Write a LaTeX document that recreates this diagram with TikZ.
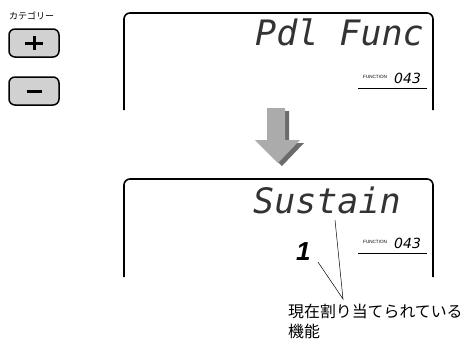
\documentclass[tikz,border=0pt]{standalone}
\usepackage{fontspec}
\newfontfamily\jpfont{Noto Sans CJK JP}
\newfontfamily\lcdfont{DejaVu Sans Mono}
\newfontfamily\segfont{DejaVu Sans}
\newfontfamily\labfont{Liberation Sans}
\begin{document}
\begin{tikzpicture}[x=1pt,y=-1pt,
  btn/.style={draw=black, line width=1.5pt, fill=black!18, rounded corners=6pt, minimum width=50pt, minimum height=28pt, inner sep=0pt},
  sign/.style={line width=3pt},
  lcdframe/.style={line width=1.6pt, rounded corners=6pt},
  lcdtext/.style={font=\lcdfont\itshape\fontsize{35}{35}\selectfont, text=black!80, inner sep=0pt, anchor=base west},
  funclab/.style={font=\labfont\fontsize{4.6}{4.6}\selectfont, inner sep=0pt, anchor=base west},
  funcnum/.style={font=\segfont\itshape\fontsize{14}{14}\selectfont, inner sep=0pt, anchor=base west},
  digit/.style={font=\labfont\bfseries\itshape\fontsize{26}{26}\selectfont, inner sep=0pt, anchor=base west},
  uline/.style={line width=0.8pt},
  leader/.style={line width=0.5pt},
  jp/.style={font=\jpfont\fontsize{15.9}{15.9}\selectfont, inner sep=0pt, anchor=base west},
  catlab/.style={font=\jpfont\fontsize{9}{9}\selectfont, inner sep=0pt, anchor=base west},
  arrowfill/.style={fill=black!33},
  arrowshadow/.style={fill=black!58}]
\useasboundingbox (0,0) rectangle (464,338);

% category buttons
\node[catlab] (cat) at (9,19) {カテゴリー};
\node[btn] (plus) at (34,43) {};
\draw[sign] (25,43) -- (43,43) (34,36) -- (34,50);
\node[btn] (minus) at (34,91) {};
\draw[sign] (26.5,91) -- (41.5,91);

% display 1
\draw[lcdframe] (124,110) -- (124,13) -- (433,13) -- (433,110);
\node[lcdtext] (pdl) at (255,45) {Pdl Func};
\node[funclab] (fl1) at (363,78) {FUNCTION};
\node[funcnum] (fn1) at (394,83) {043};
\draw[uline] (358,88) -- (427,88);

% arrow
\fill[arrowshadow, shift={(4,3)}] (267,108) -- (285,108) -- (285,140) -- (300,140) -- (278,163) -- (255,140) -- (267,140) -- cycle;
\fill[arrowfill] (267,108) -- (285,108) -- (285,140) -- (300,140) -- (278,163) -- (255,140) -- (267,140) -- cycle;

% display 2
\draw[lcdframe] (124,277) -- (124,179) -- (433,179) -- (433,277);
\node[lcdtext] (sus) at (253,213) {Sustain};
\node[funclab] (fl2) at (363,243) {FUNCTION};
\node[funcnum] (fn2) at (394,248) {043};
\draw[uline] (358,253) -- (427,253);
\node[digit] (one) at (296,260) {1};

% label and leaders
\node[jp] (lbl1) at (288,317) {現在割り当てられている};
\node[jp] (lbl2) at (288,337) {機能};
\coordinate (s1) at (335,220);
\coordinate (s2) at (318,262);
\coordinate (meet) at (343,299);
\draw[leader] (s1) -- (meet) -- (s2);
\end{tikzpicture}
\end{document}
